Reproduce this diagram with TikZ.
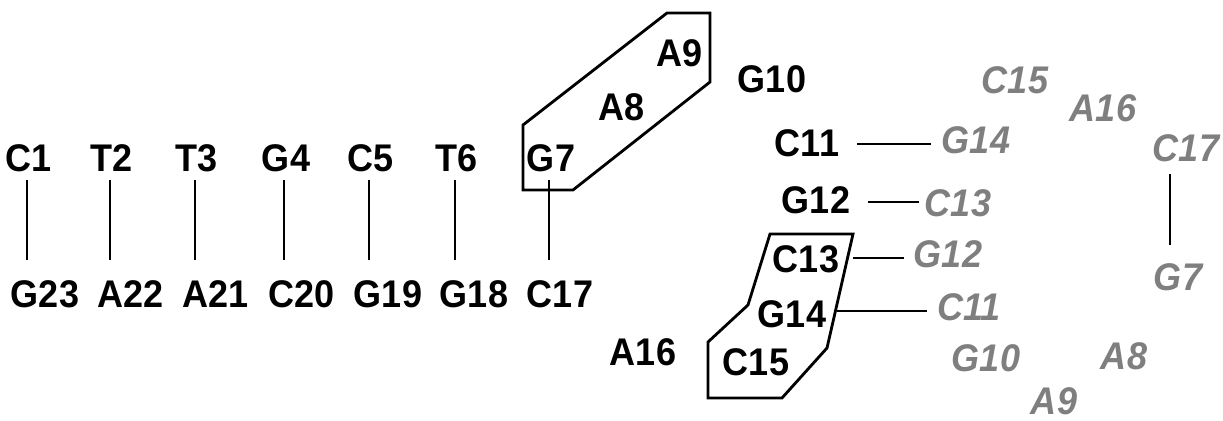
\documentclass[tikz,border=0pt]{standalone}
\usepackage{fontspec}
\setmainfont{Liberation Sans}
\usetikzlibrary{calc}
\definecolor{PairGray}{HTML}{7F7F7F}
\tikzset{
    % base labels of the strand
    base/.style={
        font=\bfseries\fontsize{20.5}{22}\selectfont,
        inner sep=0pt,
        yscale=1.07
    },
    % partner bases, drawn grey and slanted
    pair/.style={
        base,
        font=\bfseries\itshape\fontsize{20.5}{22}\selectfont,
        text=PairGray
    },
    bond/.style={
        line width=0.6pt,
        black
    },
    hairpin/.style={
        line width=1.6pt,
        line join=miter
    }
}
\begin{document}
\begin{tikzpicture}[x=0.02cm, y=-0.02cm]
        \useasboundingbox (0,0) rectangle (1223,421);

        % Loops round the folded parts
        \draw[hairpin] (523,125) -- (667,13) -- (710,13) -- (710,82) -- (573,190) -- (523,190) -- cycle;
        \draw[hairpin] (770,234) -- (853,234) -- (827,348) -- (782,398) -- (708,398) -- (708,342) -- (748,305) -- cycle;

        % Upper strand
        \node[base] (c1) at (29,158) {C1};
        \node[base] (t2) at (112,158) {T2};
        \node[base] (t3) at (197,158) {T3};
        \node[base] (g4) at (286,158) {G4};
        \node[base] (c5) at (371,158) {C5};
        \node[base] (t6) at (457,158) {T6};
        \node[base] (g7) at (551,158) {G7};
        \node[base] (a8) at (622,107) {A8};
        \node[base] (a9) at (680,53) {A9};
        \node[base] (g10) at (772,79) {G10};
        \node[base] (c11) at (807,143) {C11};
        \node[base] (g12) at (816,200) {G12};
        \node[base] (c13) at (806,259) {C13};
        \node[base] (g14) at (792,314) {G14};
        \node[base] (c15) at (756,362) {C15};
        \node[base] (a16) at (643,352) {A16};

        % Lower strand
        \node[base] (g23) at (45,294) {G23};
        \node[base] (a22) at (131,294) {A22};
        \node[base] (a21) at (216,294) {A21};
        \node[base] (c20) at (302,294) {C20};
        \node[base] (g19) at (388,294) {G19};
        \node[base] (g18) at (474,294) {G18};
        \node[base] (c17) at (560,294) {C17};

        % Partner strand
        \node[pair] (pc15) at (1015,80) {C15};
        \node[pair] (pa16) at (1103,108) {A16};
        \node[pair] (pg14) at (976,140) {G14};
        \node[pair] (pc17) at (1186,148) {C17};
        \node[pair] (pc13) at (958,203) {C13};
        \node[pair] (pg12) at (948,254) {G12};
        \node[pair] (pg7) at (1178,277) {G7};
        \node[pair] (pc11) at (969,307) {C11};
        \node[pair] (pg10) at (986,358) {G10};
        \node[pair] (pa8) at (1124,356) {A8};
        \node[pair] (pa9) at (1054,401) {A9};

        % Pairings
        \foreach \a/\b in {c1/g23, t2/a22, t3/a21, g4/c20, c5/g19, t6/g18, g7/c17}
            \draw[bond] ($(\a.south)+(-2,8)$) -- ($(\a.south |- \b.north)+(-2,-20)$);
        \draw[bond] ($(c11.east)+(18,1)$) -- ($(c11.east -| pg14.west)+(-11,1)$);
        \draw[bond] ($(g12.east)+(18,2)$) -- ($(g12.east -| pc13.west)+(-6,2)$);
        \draw[bond] ($(c13.east)+(14,-1)$) -- ($(c13.east -| pg12.west)+(-10,-1)$);
        \draw[bond] ($(g14.east)+(11,-3)$) -- ($(g14.east -| pc11.west)+(-10,-3)$);
        \draw[bond] ($(pc17.south)+(-16,12)$) -- ($(pc17.south |- pg7.north)+(-16,-18)$);
\end{tikzpicture}
\end{document}
